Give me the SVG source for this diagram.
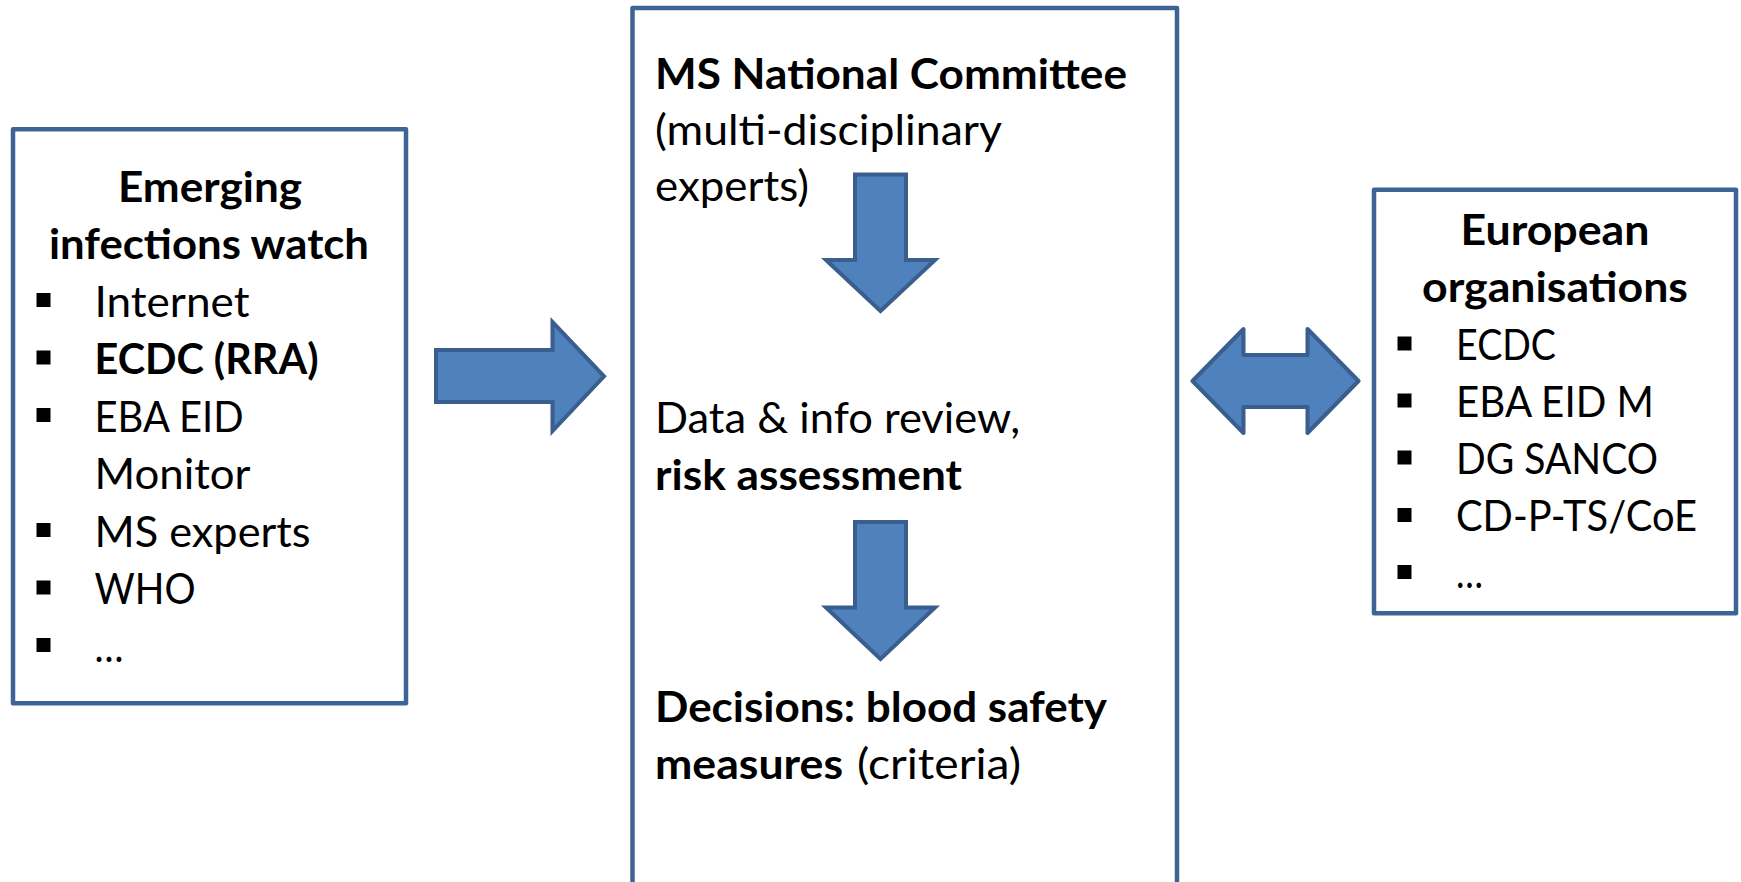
<svg xmlns="http://www.w3.org/2000/svg" width="1741" height="882" viewBox="0 0 1741 882">
  <style>
    .box { fill: #ffffff; stroke: #3E6395; stroke-width: 4.5; stroke-linejoin: round; }
    .arrow { fill: #4F81BD; stroke: #3A5F8E; stroke-width: 4; stroke-linejoin: miter; }
    .arrow.round { stroke-linejoin: round; }
    text { font-family: Lato, "Open Sans", sans-serif; font-size: 42.5px; fill: #000000; }
    .b { font-weight: 700; }
    .mid { text-anchor: middle; }
    .bullet { fill: #000000; }
  </style>
  <defs>
    <rect id="sq" width="14" height="14" class="bullet"/>
  </defs>

  <rect width="1741" height="882" fill="#ffffff"/>

  <!-- Left node: sources watched for emerging infections -->
  <g id="emerging-infections-watch">
    <rect class="box" x="13" y="129.3" width="393" height="574"/>
    <text class="b mid" x="210" y="201.5" textLength="184" lengthAdjust="spacingAndGlyphs">Emerging</text>
    <text class="b mid" x="209" y="259" textLength="320" lengthAdjust="spacingAndGlyphs">infections watch</text>
    <use href="#sq" x="36.5" y="293"/>
    <text x="94.5" y="316.7" textLength="155" lengthAdjust="spacingAndGlyphs">Internet</text>
    <use href="#sq" x="36.5" y="350.5"/>
    <text class="b" x="94.5" y="374.2" textLength="224" lengthAdjust="spacingAndGlyphs">ECDC (RRA)</text>
    <use href="#sq" x="36.5" y="408"/>
    <text x="94.5" y="431.7" textLength="149" lengthAdjust="spacingAndGlyphs">EBA EID</text>
    <text x="94.5" y="489.2" textLength="156" lengthAdjust="spacingAndGlyphs">Monitor</text>
    <use href="#sq" x="36.5" y="523"/>
    <text x="94.5" y="546.7" textLength="216" lengthAdjust="spacingAndGlyphs">MS experts</text>
    <use href="#sq" x="36.5" y="580.5"/>
    <text x="94.5" y="604.2" textLength="101" lengthAdjust="spacingAndGlyphs">WHO</text>
    <use href="#sq" x="36.5" y="638"/>
    <text x="94.5" y="661.7" textLength="29" lengthAdjust="spacingAndGlyphs">…</text>
  </g>

  <!-- Centre node: national committee, open at the bottom edge -->
  <g id="ms-national-committee">
    <rect class="box" x="632.5" y="8" width="544.5" height="900"/>
    <text class="b" x="655" y="88.5" textLength="472" lengthAdjust="spacingAndGlyphs">MS National Committee</text>
    <text x="655" y="144.5" textLength="347" lengthAdjust="spacingAndGlyphs">(multi-disciplinary</text>
    <text x="655" y="201" textLength="154" lengthAdjust="spacingAndGlyphs">experts)</text>
    <text x="655" y="433.3" textLength="365" lengthAdjust="spacingAndGlyphs">Data &amp; info review,</text>
    <text class="b" x="655" y="490" textLength="307" lengthAdjust="spacingAndGlyphs">risk assessment</text>
    <text class="b" x="655" y="722" textLength="452" lengthAdjust="spacingAndGlyphs">Decisions: blood safety</text>
    <text x="655" y="778.5"><tspan class="b" textLength="188" lengthAdjust="spacingAndGlyphs">measures</tspan><tspan x="857" textLength="164" lengthAdjust="spacingAndGlyphs">(criteria)</tspan></text>
  </g>

  <!-- Right node: European organisations -->
  <g id="european-organisations">
    <rect class="box" x="1374" y="189.7" width="362" height="423.6"/>
    <text class="b mid" x="1555" y="244.5" textLength="189" lengthAdjust="spacingAndGlyphs">European</text>
    <text class="b mid" x="1555" y="301.5" textLength="266" lengthAdjust="spacingAndGlyphs">organisations</text>
    <use href="#sq" x="1397.5" y="336.5"/>
    <text x="1456" y="359.7" textLength="100" lengthAdjust="spacingAndGlyphs">ECDC</text>
    <use href="#sq" x="1397.5" y="393.5"/>
    <text x="1456" y="416.8" textLength="198" lengthAdjust="spacingAndGlyphs">EBA EID M</text>
    <use href="#sq" x="1397.5" y="450.5"/>
    <text x="1456" y="474" textLength="202" lengthAdjust="spacingAndGlyphs">DG SANCO</text>
    <use href="#sq" x="1397.5" y="508"/>
    <text x="1456" y="531.2" textLength="241" lengthAdjust="spacingAndGlyphs">CD-P-TS/CoE</text>
    <use href="#sq" x="1397.5" y="565"/>
    <text x="1456" y="588.3" textLength="27" lengthAdjust="spacingAndGlyphs">…</text>
  </g>

  <!-- Block arrows -->
  <g id="connectors">
    <path id="watch-to-committee" class="arrow" d="M436,350 H552.5 V322 L604,376.3 L552.5,431 V402 H436 Z"/>
    <path id="committee-to-review" class="arrow" d="M855,174.5 H906 V260 H935 L880.5,311 L826,260 H855 Z"/>
    <path id="review-to-decisions" class="arrow" d="M855,522 H906 V607.5 H935 L880.5,659 L826,607.5 H855 Z"/>
    <path id="committee-european" class="arrow round" d="M1192.5,381 L1243.5,329 V355 H1307.5 V329 L1358.5,381 L1307.5,433 V407 H1243.5 V433 Z"/>
  </g>
</svg>
